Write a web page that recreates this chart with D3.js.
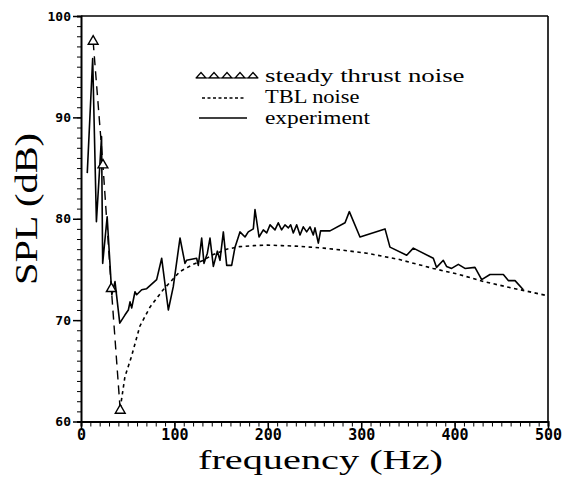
<!DOCTYPE html>
<html>
<head>
<meta charset="utf-8">
<script src="https://cdn.jsdelivr.net/npm/d3@7"></script>
<style>
  body { margin: 0; background: #fff; }
  .tick text { font-family: "DejaVu Sans Mono", monospace; font-weight: bold; fill: #000; }
  .title { font-family: "Liberation Serif", "DejaVu Serif", serif; fill: #000; }
</style>
</head>
<body>
<div id="chart"></div>
<script>
// steady thrust noise (harmonics)
var thrustFreq = [13, 23.5, 32.5, 42];
var thrustSPL  = [97.5, 85.3, 73.1, 61.1];

// TBL noise
var tblFreq = [42, 47, 54, 63, 74, 88, 99, 106, 120, 131, 140, 156, 170, 185, 200, 215, 230, 245, 260, 280, 306, 340, 377, 405, 431, 460, 500];
var tblSPL  = [61.3, 64.4, 66.4, 69.4, 71.3, 73.0, 74.1, 74.8, 75.5, 75.9, 76.4, 77.0, 77.25, 77.35, 77.4, 77.35, 77.3, 77.2, 77.1, 76.9, 76.6, 76.0, 75.1, 74.5, 73.8, 73.2, 72.4];

// experiment
var expFreq = [6.7, 12.5, 16.5, 22, 23.2, 28, 33, 36.4, 41.5, 47, 50.7, 52.5, 54.3, 57.8, 59.6, 65, 70.3, 81, 86.4, 93.5, 98.8, 106, 111.3, 113, 123.8, 125.6, 129.2, 131.7, 135.3, 138.1, 141.7, 146, 148.8, 152.4, 156, 161.3, 164.9, 170.2, 175.6, 179.1, 184.5, 186.3, 190.6, 195.2, 198.8, 202.4, 207.7, 211.2, 214.8, 218.4, 222, 224.5, 227.3, 230.9, 234.5, 238, 241.6, 245.2, 248.7, 250.5, 254.1, 256.5, 266.6, 282.7, 287.3, 298.7, 325.5, 330.8, 348.7, 355.8, 377.2, 380.7, 387.9, 391.4, 396.8, 404, 411.1, 421.8, 429, 437.9, 452.2, 457.5, 464.7, 473.6];
var expSPL  = [84.5, 95.8, 79.7, 88.1, 75.6, 80.2, 72.5, 73.8, 69.7, 70.5, 71, 71.8, 71.2, 72.8, 72.5, 73, 73.1, 74, 76.1, 71, 73.3, 78.1, 75.6, 75.9, 76.1, 75.4, 78.1, 75.6, 76.6, 78.1, 75.3, 76.8, 75.9, 78.7, 75.4, 75.4, 77.2, 78.7, 78.2, 78.7, 79.0, 80.9, 78.2, 78.9, 78.6, 79.4, 78.9, 79.6, 78.9, 79.4, 79.1, 79.4, 78.6, 79.4, 78.4, 79.2, 78.7, 79.2, 78.4, 79.1, 77.6, 78.8, 78.8, 79.6, 80.7, 78.2, 79.0, 77.2, 76.4, 77.1, 76.1, 75.2, 75.9, 75.3, 75.1, 75.5, 75.1, 75.2, 74.0, 74.5, 74.5, 73.9, 73.9, 73.0];

var xMajor = [0, 100, 200, 300, 400, 500];
var yMajor = [60, 70, 80, 90, 100];
var legendLabels = ["steady thrust noise", "TBL noise", "experiment"];

var W = 572, H = 477;
var mLeft = 81, mRight = 548, mTop = 16, mBottom = 421.5;

var svg = d3.select("#chart").append("svg")
            .attr("width", W)
            .attr("height", H);

var x = d3.scaleLinear().domain([0, 500]).range([mLeft, mRight]);
var y = d3.scaleLinear().domain([60, 100]).range([mBottom, mTop]);

function zip(a, b) { return a.map(function (d, i) { return [d, b[i]]; }); }

/* frame */
svg.append("line").attr("x1", mLeft).attr("x2", mRight).attr("y1", mTop).attr("y2", mTop)
   .attr("stroke", "#000").attr("stroke-width", 1.6);
svg.append("line").attr("x1", mRight).attr("x2", mRight).attr("y1", mTop).attr("y2", mBottom)
   .attr("stroke", "#000").attr("stroke-width", 1.6);

/* x axis: minor ticks then labelled majors */
svg.append("g").attr("transform", "translate(0," + mBottom + ")")
   .call(d3.axisBottom(x).tickValues(d3.range(0, 501, 10)).tickSize(5).tickFormat(""))
   .call(function (g) { g.select(".domain").attr("stroke-width", 2); });
svg.append("g").attr("transform", "translate(0," + mBottom + ")")
   .call(d3.axisBottom(x).tickValues(xMajor).tickSize(8).tickPadding(0).tickFormat(d3.format("d")))
   .call(function (g) { g.select(".domain").remove(); })
   .call(function (g) { g.selectAll("text").style("font-size", "15px"); })
   .call(function (g) { g.selectAll("line").attr("stroke-width", 1.5); });

/* y axis */
svg.append("g").attr("transform", "translate(" + mLeft + ",0)")
   .call(d3.axisLeft(y).tickValues(d3.range(60, 101, 1)).tickSize(4).tickFormat(""))
   .call(function (g) { g.select(".domain").attr("stroke-width", 2); });
svg.append("g").attr("transform", "translate(" + mLeft + ",0)")
   .call(d3.axisLeft(y).tickValues(yMajor).tickSize(8).tickPadding(2).tickFormat(d3.format("d")))
   .call(function (g) { g.select(".domain").remove(); })
   .call(function (g) { g.selectAll("text").style("font-size", "13px"); })
   .call(function (g) { g.selectAll("line").attr("stroke-width", 1.5); });

/* axis titles */
svg.append("text").attr("class", "title")
   .attr("x", 198).attr("y", 469)
   .attr("textLength", 245).attr("lengthAdjust", "spacingAndGlyphs")
   .style("font-size", "28px")
   .text("frequency (Hz)");
svg.append("text").attr("class", "title")
   .attr("transform", "translate(37,285) rotate(-90)")
   .attr("textLength", 152).attr("lengthAdjust", "spacingAndGlyphs")
   .style("font-size", "31px")
   .text("SPL (dB)");

var line = d3.line().x(function (d) { return x(d[0]); }).y(function (d) { return y(d[1]); });

/* curves */
svg.append("path").datum(zip(tblFreq, tblSPL))
   .attr("d", line).attr("fill", "none").attr("stroke", "#000")
   .attr("stroke-width", 1.6).attr("stroke-dasharray", "3.5,3.5");

svg.append("path").datum(zip(thrustFreq, thrustSPL))
   .attr("d", line).attr("fill", "none").attr("stroke", "#000")
   .attr("stroke-width", 1.4).attr("stroke-dasharray", "9,6");

svg.append("path").datum(zip(expFreq, expSPL))
   .attr("d", line).attr("fill", "none").attr("stroke", "#000")
   .attr("stroke-width", 1.6).attr("stroke-linejoin", "round");

var tri = d3.symbol().type(d3.symbolTriangle).size(42);
svg.selectAll(".tri").data(zip(thrustFreq, thrustSPL)).enter()
   .append("path").attr("class", "tri")
   .attr("d", tri)
   .attr("transform", function (d) { return "translate(" + x(d[0]) + "," + y(d[1]) + ")"; })
   .attr("fill", "#fff").attr("stroke", "#000").attr("stroke-width", 1.4);

/* legend */
var lg = svg.append("g");
var rows = [82, 103, 124];
lg.selectAll("text").data(legendLabels).enter().append("text")
  .attr("class", "title").attr("x", 265).attr("y", function (d, i) { return rows[i]; })
  .attr("textLength", function (d) { return d.length * 10.5; })
  .attr("lengthAdjust", "spacingAndGlyphs")
  .style("font-size", "19px").text(function (d) { return d; });

lg.append("line").attr("x1", 196).attr("x2", 258).attr("y1", rows[0] - 4).attr("y2", rows[0] - 4)
  .attr("stroke", "#000").attr("stroke-width", 1.2);
lg.selectAll(".ltri").data(d3.range(5)).enter().append("path")
  .attr("d", d3.symbol().type(d3.symbolTriangle).size(26))
  .attr("transform", function (d) { return "translate(" + (201 + d * 13) + "," + (rows[0] - 6) + ") scale(1.2,0.8)"; })
  .attr("fill", "#fff").attr("stroke", "#000").attr("stroke-width", 1.3);

lg.append("line").attr("x1", 202).attr("x2", 244).attr("y1", rows[1] - 5).attr("y2", rows[1] - 5)
  .attr("stroke", "#000").attr("stroke-width", 1.5).attr("stroke-dasharray", "3,2.5");
lg.append("line").attr("x1", 199).attr("x2", 247).attr("y1", rows[2] - 6).attr("y2", rows[2] - 6)
  .attr("stroke", "#000").attr("stroke-width", 1.6);
</script>
</body>
</html>
